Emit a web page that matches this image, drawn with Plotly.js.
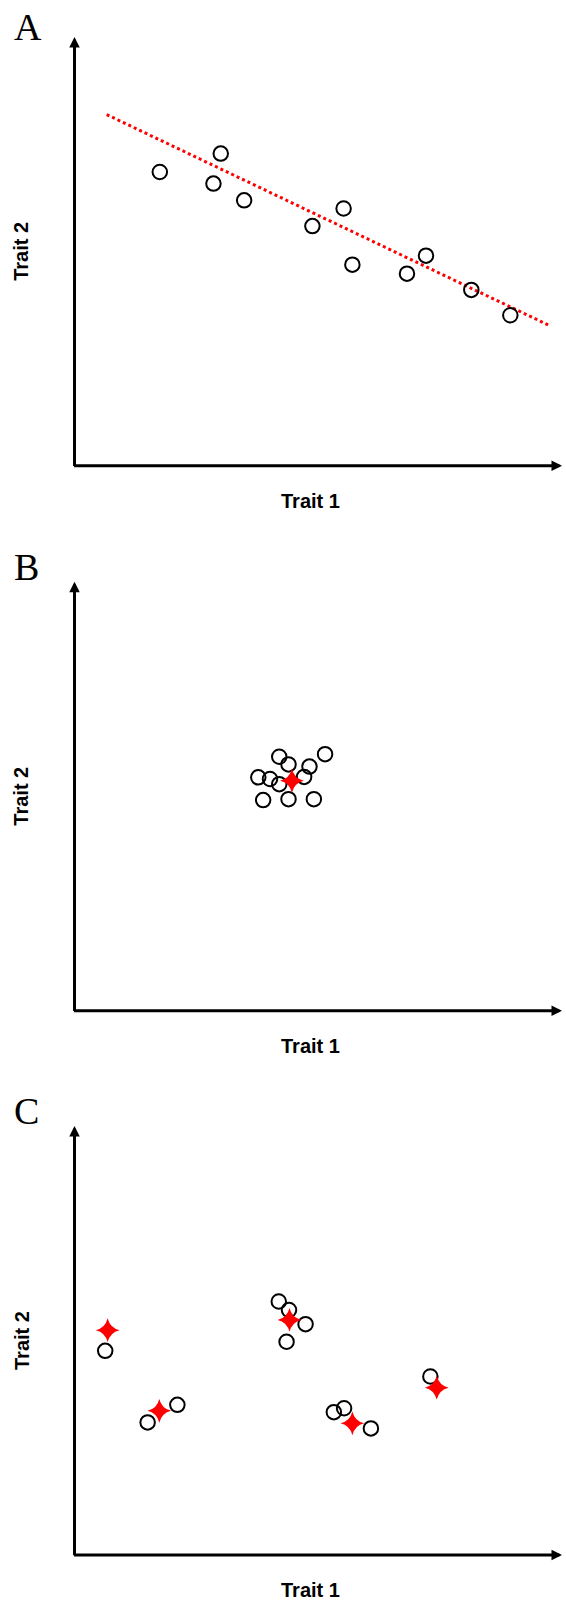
<!DOCTYPE html>
<html>
<head>
<meta charset="utf-8">
<script src="https://cdn.plot.ly/plotly-3.0.1.min.js"></script>
<style>html,body{margin:0;padding:0;background:#fff;}#chart{width:566px;height:1601px;}</style>
</head>
<body>
<div id="chart"></div>
<script>
// ---- Data (arbitrary trait units, origin at the axes' corner, axis length = 100) ----
// Panel A: individuals and fitted trend
const aTrait1 = [17.5, 30.0, 28.5, 34.8, 48.8, 55.2, 57.0, 68.2, 72.1, 81.4, 89.4];
const aTrait2 = [68.5, 72.8, 65.8, 61.9, 55.9, 60.0, 46.9, 44.8, 49.0, 41.0, 35.1];
const aTrendTrait1 = [6.6, 97.6];
const aTrendTrait2 = [81.9, 32.6];

// Panel B: individuals and single optimum
const bTrait1 = [42.0, 43.9, 51.4, 48.2, 37.7, 40.1, 42.0, 47.1, 38.7, 43.9, 49.1];
const bTrait2 = [59.2, 57.4, 59.8, 56.9, 54.4, 54.0, 52.8, 54.5, 49.1, 49.3, 49.3];
const bOptTrait1 = [44.6];
const bOptTrait2 = [53.6];

// Panel C: individuals and multiple optima
const cTrait1 = [6.3, 15.0, 21.1, 41.9, 44.0, 47.4, 43.5, 53.2, 55.3, 60.8, 73.0];
const cTrait2 = [47.6, 30.9, 35.0, 59.1, 57.1, 53.8, 49.7, 33.3, 34.2, 29.5, 41.6];
const cOptTrait1 = [6.8, 17.4, 44.1, 57.0, 74.3];
const cOptTrait2 = [52.4, 33.6, 54.8, 30.7, 39.0];

const panelLetters = ['A', 'B', 'C'];
const xLabel = 'Trait 1';
const yLabel = 'Trait 2';

// ---- Styling / layout ----
const W = 566, H = 1601;
const sansBold = 'Liberation Sans, Arial, sans-serif';
const serif = 'Liberation Serif, Times New Roman, serif';
const circleMarker = {symbol: 'circle-open', size: 14.5, color: '#000', line: {color: '#000', width: 2}};
const starMarker = {symbol: 'star-diamond', size: 17, color: '#ff0000', line: {width: 0}};

const traces = [
  {x: aTrendTrait1, y: aTrendTrait2, xaxis: 'x', yaxis: 'y', mode: 'lines',
   line: {color: '#ff0000', width: 3, dash: 'dot'}, hoverinfo: 'skip'},
  {x: aTrait1, y: aTrait2, xaxis: 'x', yaxis: 'y', mode: 'markers', marker: circleMarker},
  {x: bTrait1, y: bTrait2, xaxis: 'x2', yaxis: 'y2', mode: 'markers', marker: circleMarker},
  {x: bOptTrait1, y: bOptTrait2, xaxis: 'x2', yaxis: 'y2', mode: 'markers', marker: starMarker},
  {x: cTrait1, y: cTrait2, xaxis: 'x3', yaxis: 'y3', mode: 'markers', marker: circleMarker},
  {x: cOptTrait1, y: cOptTrait2, xaxis: 'x3', yaxis: 'y3', mode: 'markers', marker: starMarker}
];

// pixel geometry of each panel (origin y, top y in page pixels)
const xLeftPx = 74.5, xRightPx = 562;
const panelsPx = [{bottom: 465.7, top: 37}, {bottom: 1010.7, top: 581.7}, {bottom: 1555, top: 1126}];
const letterCapCenterPx = [26.5, 566.5, 1110.5];
const xLabelCenterPx = 310;
const xLabelOffsetPx = 35;
const yLabelCenterXPx = 21.5;

function axisBase(domain) {
  return {domain: domain, range: [0, 100], showgrid: false, zeroline: false, showline: false,
          showticklabels: false, ticks: '', fixedrange: true};
}

const layout = {
  width: W, height: H,
  margin: {l: 0, r: 0, t: 0, b: 0, pad: 0},
  paper_bgcolor: '#fff', plot_bgcolor: 'rgba(0,0,0,0)',
  showlegend: false,
  annotations: []
};

panelsPx.forEach((p, i) => {
  const sfx = i === 0 ? '' : String(i + 1);
  const xd = [xLeftPx / W, xRightPx / W];
  const yd = [1 - p.bottom / H, 1 - p.top / H];
  layout['xaxis' + sfx] = Object.assign(axisBase(xd), {anchor: 'y' + sfx});
  layout['yaxis' + sfx] = Object.assign(axisBase(yd), {anchor: 'x' + sfx});
  const xr = 'x' + sfx, yr = 'y' + sfx;
  // y axis arrow
  layout.annotations.push({xref: xr, yref: yr, axref: xr, ayref: yr, x: 0, y: 100, ax: 0, ay: -0.4,
    text: '', showarrow: true, arrowhead: 2, arrowsize: 0.7, arrowwidth: 3, arrowcolor: '#000', standoff: 0, startstandoff: 0});
  // x axis arrow
  layout.annotations.push({xref: xr, yref: yr, axref: xr, ayref: yr, x: 100, y: 0, ax: -0.4, ay: 0,
    text: '', showarrow: true, arrowhead: 2, arrowsize: 0.7, arrowwidth: 3, arrowcolor: '#000', standoff: 0, startstandoff: 0});
  // axis labels
  layout.annotations.push({xref: 'paper', yref: 'paper', x: xLabelCenterPx / W, y: 1 - (p.bottom + xLabelOffsetPx) / H,
    xanchor: 'center', yanchor: 'middle', text: xLabel, showarrow: false,
    font: {family: sansBold, size: 20, color: '#000', weight: 'bold'}});
  layout.annotations.push({xref: 'paper', yref: 'paper', x: yLabelCenterXPx / W, y: 1 - ((p.bottom + p.top) / 2) / H,
    xanchor: 'center', yanchor: 'middle', text: yLabel, textangle: -90, showarrow: false,
    font: {family: sansBold, size: 20, color: '#000', weight: 'bold'}});
  // panel letter
  layout.annotations.push({xref: 'paper', yref: 'paper', x: 12 / W, y: 1 - letterCapCenterPx[i] / H,
    xanchor: 'left', yanchor: 'middle', text: panelLetters[i], showarrow: false,
    font: {family: serif, size: 38, color: '#000'}});
});

Plotly.newPlot('chart', traces, layout, {staticPlot: true, displayModeBar: false});
</script>
</body>
</html>
